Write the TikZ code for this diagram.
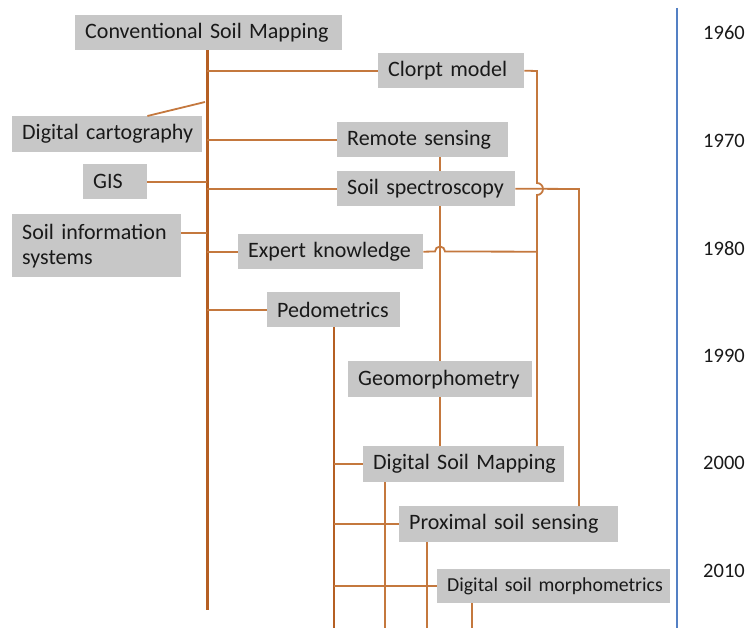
\documentclass[tikz,border=0pt]{standalone}
\usepackage{fontspec}
\setmainfont{Carlito}[WordSpace=0.5]
\definecolor{boxgray}{RGB}{199,199,199}
\definecolor{txtgray}{RGB}{25,25,25}
\definecolor{trunkbrown}{RGB}{181,95,35}
\definecolor{linkbrown}{RGB}{196,120,62}
\definecolor{timeblue}{RGB}{84,128,196}

\begin{document}
\begin{tikzpicture}[x=1pt,y=-1pt]
    \tikzstyle{every node} = [fill=boxgray,text=txtgray,anchor=north west,align=left,inner xsep=10pt,inner ysep=0pt,font=\fontsize{22}{25}\selectfont];
    \tikzstyle{link} = [draw=linkbrown,line width=1.8pt];
    \tikzstyle{stem} = [draw=trunkbrown,line width=3pt];
    \useasboundingbox (0,0) rectangle (749,628);
    % boxes
    \node[text width=247pt,minimum height=35pt] (csm) at (75,15) {Conventional Soil Mapping};
    \node[text width=126pt,minimum height=35pt] (clorpt) at (378,53) {Clorpt model};
    \node[text width=170pt,minimum height=36pt] (dcarto) at (12,116) {\mbox{Digital cartography}};
    \node[text width=151pt,minimum height=35pt] (remote) at (337,122) {Remote sensing};
    \node[text width=44pt,minimum height=35pt] (gis) at (83,164) {GIS};
    \node[text width=158pt,minimum height=35pt] (spec) at (337,171) {Soil spectroscopy};
    \node[text width=149pt,minimum height=63pt] (sis) at (12,214) {Soil information\\systems};
    \node[text width=165pt,minimum height=35pt] (expert) at (238,234) {Expert knowledge};
    \node[text width=113pt,minimum height=35pt] (ped) at (267,292) {Pedometrics};
    \node[text width=164pt,minimum height=36pt] (geo) at (348,361) {Geomorphometry};
    \node[text width=181pt,minimum height=36pt] (dsm) at (363,446) {\mbox{Digital Soil Mapping}};
    \node[text width=199pt,minimum height=36pt] (prox) at (399,506) {Proximal soil sensing};
    \node[text width=213pt,minimum height=34pt,font=\fontsize{19.8}{23}\selectfont] (morph) at (437,569) {\mbox{Digital soil morphometrics}};
    % helper points
    \coordinate (trunkend) at (207,610);
    \coordinate (bottom) at (0,628);
    \coordinate (dcjoin) at (205,102);
    \coordinate (clorptx) at (537,71);
    \coordinate (hopa) at (537,183);
    \coordinate (hopb) at (435,251.5);
    \coordinate (specx) at (579,189);
    \coordinate (sisjoin) at ([yshift=-19pt]sis.north east);
    \coordinate (dsmleg) at ([xshift=22pt]dsm.south west);
    \coordinate (proxleg) at ([xshift=28pt]prox.south west);
    \coordinate (morphleg) at ([xshift=35pt]morph.south west);
    % main trunk
    \draw[stem] (csm.south -| trunkend) -- (trunkend);
    \draw[link] (clorpt.west -| trunkend) -- (clorpt.west);
    \draw[link] ([xshift=-55pt]dcarto.north east) -- (dcjoin);
    \draw[link] (remote.west -| trunkend) -- (remote.west);
    \draw[link] (gis.east) -- (gis.east -| trunkend);
    \draw[link] (spec.west -| trunkend) -- (spec.west);
    \draw[link] (sisjoin) -- (sisjoin -| trunkend);
    \draw[link] (expert.west -| trunkend) -- (expert.west);
    \draw[link] (ped.west -| trunkend) -- (ped.west);
    % pedometrics stem
    \draw[draw=trunkbrown,line width=2.4pt] (ped.south) -- (ped.south |- bottom);
    \draw[link] (dsm.west -| ped.south) -- (dsm.west);
    \draw[link] (prox.west -| ped.south) -- (prox.west);
    \draw[link] (morph.west -| ped.south) -- (morph.west);
    \draw[link] (dsmleg) -- (dsmleg |- bottom);
    \draw[link] (proxleg) -- (proxleg |- bottom);
    \draw[link] (morphleg) -- (morphleg |- bottom);
    % right side links
    \draw[link] (remote.south -| geo.north) -- (spec.north -| geo.north);
    \draw[link] (spec.south -| geo.north) -- (geo.north);
    \draw[link] (geo.south) -- (dsm.north -| geo.south);
    \draw[link] (clorpt.east) -- (clorptx) -- (hopa) arc[start angle=90,end angle=-90,radius=6pt] -- (dsm.north -| clorptx);
    \draw[link] (expert.east) -- (hopb) arc[start angle=180,end angle=0,radius=5pt] -- (expert.east -| clorptx);
    \draw[link] (spec.east) -- (specx) -- (prox.north -| specx);
    % time axis
    \draw[draw=timeblue,line width=2.6pt] (677,8) -- (677,628);
    \foreach \yr [count=\i from 0] in {1960,1970,1980,1990,2000,2010}
        \node[fill=none,anchor=center,inner xsep=0pt,font=\fontsize{20.5}{24}\selectfont] (y\yr) at (724,{33+107.6*\i}) {\yr};
\end{tikzpicture}
\end{document}
